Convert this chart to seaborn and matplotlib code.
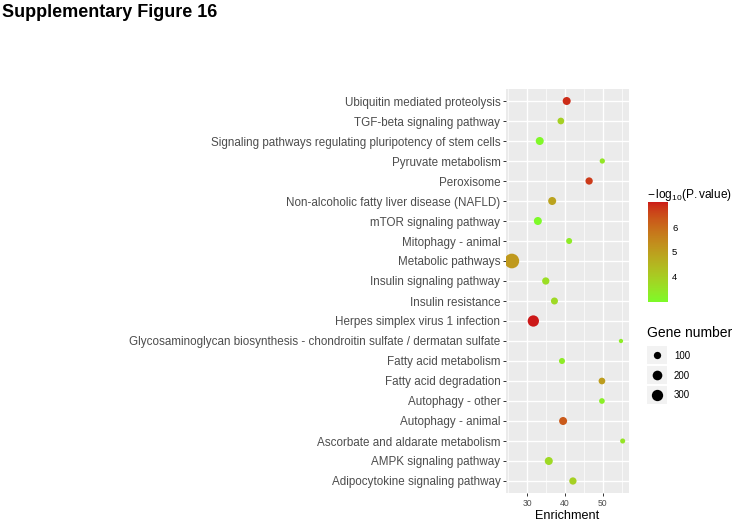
import numpy as np
import pandas as pd
import matplotlib
matplotlib.use("Agg")
import matplotlib.pyplot as plt
import seaborn as sns
from matplotlib.colors import ListedColormap, Normalize
from matplotlib.cm import ScalarMappable
from matplotlib.patches import Rectangle

# ---------------- data ----------------
terms = [
    "Adipocytokine signaling pathway",
    "AMPK signaling pathway",
    "Ascorbate and aldarate metabolism",
    "Autophagy - animal",
    "Autophagy - other",
    "Fatty acid degradation",
    "Fatty acid metabolism",
    "Glycosaminoglycan biosynthesis - chondroitin sulfate / dermatan sulfate",
    "Herpes simplex virus 1 infection",
    "Insulin resistance",
    "Insulin signaling pathway",
    "Metabolic pathways",
    "Mitophagy - animal",
    "mTOR signaling pathway",
    "Non-alcoholic fatty liver disease (NAFLD)",
    "Peroxisome",
    "Pyruvate metabolism",
    "Signaling pathways regulating pluripotency of stem cells",
    "TGF-beta signaling pathway",
    "Ubiquitin mediated proteolysis",
]
enrichment = [42.1, 35.7, 55.3, 39.5, 49.8, 49.8, 39.2, 54.85, 31.6, 37.2,
              34.9, 25.9, 41.1, 32.8, 36.6, 46.4, 49.9, 33.3, 38.9, 40.45]
neg_log10_p = [3.9, 3.7, 3.45, 6.3, 3.2, 5.0, 3.3, 3.25, 7.05, 3.7,
               3.6, 5.1, 3.3, 2.95, 4.9, 6.75, 3.4, 3.0, 3.9, 6.9]
gene_number = [100, 124, 58, 124, 65, 84, 70, 55, 300, 92,
               100, 593, 70, 124, 124, 100, 60, 124, 84, 124]
x_ticks = [30, 40, 50]
cbar_ticks = [4, 5, 6]
size_breaks = [100, 200, 300]

df = pd.DataFrame({"Term": terms, "Enrichment": enrichment,
                   "logp": neg_log10_p, "Count": gene_number})

# ---------------- colour scale (Lab interpolation like ggplot) ----------------
def _lin(c):
    c = np.asarray(c, float)
    return np.where(c <= 0.04045, c / 12.92, ((c + 0.055) / 1.055) ** 2.4)

def _delin(c):
    c = np.clip(c, 0, 1)
    return np.where(c <= 0.0031308, c * 12.92, 1.055 * c ** (1 / 2.4) - 0.055)

M = np.array([[0.4124, 0.3576, 0.1805], [0.2126, 0.7152, 0.0722], [0.0193, 0.1192, 0.9505]])
WP = np.array([0.95047, 1.0, 1.08883])

def rgb2lab(rgb):
    xyz = M @ _lin(rgb) / WP
    f = np.where(xyz > 0.008856, np.cbrt(xyz), 7.787 * xyz + 16 / 116)
    return np.array([116 * f[1] - 16, 500 * (f[0] - f[1]), 200 * (f[1] - f[2])])

def lab2rgb(lab):
    L, a, b = lab
    fy_ = (L + 16) / 116
    fx_ = fy_ + a / 500
    fz_ = fy_ - b / 200
    f = np.array([fx_, fy_, fz_])
    xyz = np.where(f ** 3 > 0.008856, f ** 3, (f - 16 / 116) / 7.787) * WP
    return _delin(np.linalg.inv(M) @ xyz)

def hex2rgb(h):
    h = h.lstrip("#")
    return np.array([int(h[i:i + 2], 16) / 255 for i in (0, 2, 4)])

low_col, high_col = "#7DFA28", "#CC1818"
l0, l1 = rgb2lab(hex2rgb(low_col)), rgb2lab(hex2rgb(high_col))
cmap = ListedColormap([lab2rgb(l0 + (l1 - l0) * t) for t in np.linspace(0, 1, 256)])
vmin, vmax = min(neg_log10_p), max(neg_log10_p)

# ---------------- size scale (ggplot scale_size-like) ----------------
DPI = 100
nmin, nmax = min(gene_number), max(gene_number)

def size_area(n):
    r = (n - nmin) / (nmax - nmin)
    d_px = 2.08 * (1 + 5 * np.sqrt(max(r, 0))) + 2.2
    d_pt = d_px * 72 / DPI
    return d_pt ** 2

size_map = {n: size_area(n) for n in sorted(set(gene_number))}

# ---------------- figure ----------------
sns.set_theme(style="darkgrid")
plt.rcParams["font.family"] = ["Liberation Sans", "DejaVu Sans"]
plt.rcParams["mathtext.fontset"] = "custom"
plt.rcParams["mathtext.rm"] = "Liberation Sans"
plt.rcParams["mathtext.it"] = "Liberation Sans"

W, H = 737, 525
fig = plt.figure(figsize=(W / DPI, H / DPI), dpi=DPI)
fig.patch.set_facecolor("white")

def fx(px):
    return px / W

def fy(py):
    return 1 - py / H

left, right, top, bottom = 506, 629, 89, 493
ax = fig.add_axes([fx(left), fy(bottom), fx(right - left), (bottom - top) / H])
ax.set_facecolor("#EBEBEB")

sns.scatterplot(data=df, x="Enrichment", y="Term", hue="logp", size="Count",
                sizes=size_map, palette=cmap, hue_norm=(vmin, vmax),
                linewidth=0, legend=False, ax=ax, zorder=3)

ax.set_ylim(-0.6, len(terms) - 0.4)
ax.set_xlim(24.35, 56.98)
ax.set_xticks(x_ticks)
ax.set_xticks([25, 35, 45, 55], minor=True)
ax.set_yticks(range(len(terms)))
ax.set_yticklabels(terms)
ax.grid(True, which="major", color="white", linewidth=1.0)
ax.grid(True, which="minor", axis="x", color="white", linewidth=0.5)
ax.set_axisbelow(True)
for s in ax.spines.values():
    s.set_visible(False)
ax.tick_params(axis="both", which="major", length=2.5, width=0.7, color="#333333",
               labelcolor="#4D4D4D", pad=1.5, direction="out",
               bottom=True, left=True)
ax.tick_params(axis="y", labelsize=8.4)
ax.tick_params(axis="x", labelsize=6.2)
ax.tick_params(axis="x", which="minor", length=0)
ax.set_ylabel("")
ax.set_xlabel("Enrichment", fontsize=9.1, color="black", labelpad=2)

# title
fig.text(fx(2), fy(4), "Supplementary Figure 16", fontsize=13, fontweight="bold",
         va="top", ha="left", color="black")

# ---------------- colour bar ----------------
cax = fig.add_axes([fx(648), fy(301.7), fx(20), 100 / H])
sm = ScalarMappable(norm=Normalize(vmin, vmax), cmap=cmap)
cb = fig.colorbar(sm, cax=cax)
cb.outline.set_visible(False)
cb.set_ticks(cbar_ticks)
cax.grid(False)
cax.tick_params(axis="y", which="both", direction="in", length=4, width=0.6,
                color="white", left=True, right=True, labelleft=False,
                labelright=True, labelsize=6.8, labelcolor="black", pad=3)
fig.text(fx(647), fy(195), r"$-\,\mathrm{log}_{10}\mathrm{(P.value)}$", fontsize=8.6,
         va="center", ha="left", color="black")

# ---------------- size legend ----------------
fig.text(fx(647), fy(333), "Gene number", fontsize=10, va="center", ha="left",
         color="black")
lax = fig.add_axes([fx(647), fy(405), fx(20), 60 / H])
lax.set_xlim(0, 1)
lax.set_ylim(0, 3)
lax.axis("off")
for i, n in enumerate(size_breaks):
    yy = 2.5 - i
    lax.add_patch(Rectangle((0.02, yy - 0.47), 0.96, 0.94, facecolor="#F2F2F2",
                            edgecolor="none"))
    lax.scatter([0.5], [yy], s=size_area(n), color="black", linewidth=0)
    fig.text(fx(674), fy(356 + i * 19.7), str(n), fontsize=6.9, va="center",
             ha="left", color="black")

fig.savefig("out.png", dpi=DPI, facecolor="white")
